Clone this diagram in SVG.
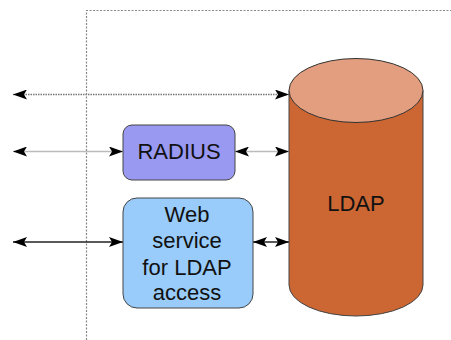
<svg xmlns="http://www.w3.org/2000/svg" width="451" height="340" viewBox="0 0 451 340">
  <style>
    .frame { fill: none; stroke: #888; stroke-width: 1.2; stroke-dasharray: 2 1.5; }
    .box { stroke: #444; stroke-width: 1; }
    .label { font-family: "Liberation Sans", Arial, sans-serif; font-size: 22px; fill: #111; text-anchor: middle; }
    .link { fill: none; marker-start: url(#head-start); marker-end: url(#head-end); }
  </style>
  <defs>
    <marker id="head-end" viewBox="0 0 14 10" refX="14" refY="5" markerWidth="14" markerHeight="10" markerUnits="userSpaceOnUse" orient="auto">
      <path d="M0,0 L14,5 L0,10 L3,5 Z" fill="#000"/>
    </marker>
    <marker id="head-start" viewBox="0 0 14 10" refX="0" refY="5" markerWidth="14" markerHeight="10" markerUnits="userSpaceOnUse" orient="auto">
      <path d="M14,0 L0,5 L14,10 L11,5 Z" fill="#000"/>
    </marker>
  </defs>

  <rect width="451" height="340" fill="#fff"/>

  <!-- dotted boundary -->
  <path class="frame" d="M86.5,340 V10.5 H451"/>

  <g id="connectors">
    <line class="link" x1="13" y1="94.5" x2="289" y2="94.5" stroke="#777" stroke-width="1.5" stroke-dasharray="1.5 1"/>
    <line class="link" x1="13" y1="151.5" x2="123" y2="151.5" stroke="#bbb" stroke-width="1.5"/>
    <line class="link" x1="235" y1="151.5" x2="289" y2="151.5" stroke="#bbb" stroke-width="1.5"/>
    <line class="link" x1="13" y1="242" x2="123" y2="242" stroke="#222" stroke-width="1.5"/>
    <line class="link" x1="253" y1="242" x2="289" y2="242" stroke="#222" stroke-width="1.5"/>
  </g>

  <g id="ldap">
    <path d="M289,90.5 V285 A67,31 0 0 0 423,285 V90.5 Z" fill="#cc6633" stroke="#444" stroke-width="1"/>
    <ellipse cx="356" cy="90.5" rx="67" ry="32" fill="#e29e7e" stroke="#333" stroke-width="1"/>
    <text class="label" x="356" y="211">LDAP</text>
  </g>

  <g id="radius">
    <rect class="box" x="123" y="125" width="112" height="55" rx="9" fill="#9999f2"/>
    <text class="label" x="179" y="159">RADIUS</text>
  </g>

  <g id="web-service">
    <rect class="box" x="123" y="198" width="130" height="110" rx="14" fill="#99ccfa"/>
    <text class="label" x="187" y="222">Web</text>
    <text class="label" x="187" y="248">service</text>
    <text class="label" x="187" y="275">for LDAP</text>
    <text class="label" x="187" y="300">access</text>
  </g>
</svg>
